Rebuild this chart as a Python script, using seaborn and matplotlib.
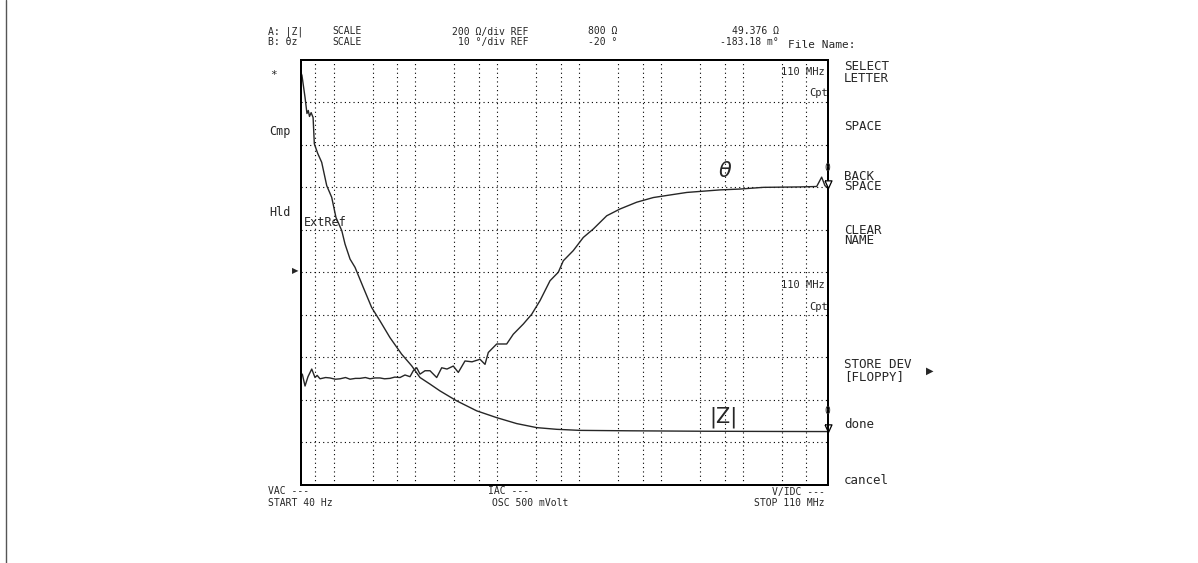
import numpy as np
import pandas as pd
import matplotlib
matplotlib.use("Agg")
import matplotlib.pyplot as plt
from matplotlib.lines import Line2D
import seaborn as sns

z_freq = [40, 41.1, 44.8, 47.3, 49.1, 50.8, 53.2, 56.2, 58.2, 64, 71.6, 82.5, 94.9,
          107, 126, 138, 159, 183, 231, 292, 369, 489, 679, 901, 1138, 1508,
          1996, 3197, 5613, 9846, 17280, 30340, 53210, 102500, 418800,
          3.0e6, 2.0e7, 110e6]
z_ohm = [1740, 1727, 1624, 1548, 1562, 1534, 1552, 1529, 1405, 1360, 1318, 1208, 1153,
         1058, 996, 933, 862, 823, 728, 634, 571, 492, 414, 359, 304, 273,
         241, 194, 147, 115, 87, 68, 60, 55, 53,
         51, 50, 49.4]

th_freq = [40, 41.5, 44.8, 48.7, 54.1, 59.3, 63, 68.3, 80, 90.4, 105, 120, 140, 159,
           185, 210, 245, 279, 320, 369, 420, 489, 560, 648, 746, 859, 942, 1037,
           1138, 1310, 1508, 1820, 2095, 2432, 2904, 3343, 4036, 4916, 6156,
           7087, 7776, 9846, 13040, 15700, 20810, 26350, 33270, 44140, 55720,
           64130, 84920, 112600, 149300, 217500, 316000, 505800, 807200,
           1.29e6, 2.07e6, 5.27e6, 9.25e6, 1.78e7, 5.01e7, 8.0e7, 9.2e7,
           1.01e8, 110e6]
th_deg = [-44.5, -44.0, -46.8, -44.6, -42.8, -44.8, -44.3, -45.1, -44.8, -44.9, -45.2,
          -45.1, -44.8, -45.2, -45.0, -45.0, -44.8, -45.1, -44.9, -44.9, -45.1, -45.0,
          -44.7, -44.8, -44.2, -44.6, -43.2, -42.5,
          -44.0, -43.2, -43.2, -44.8, -42.5, -42.8, -42.1, -43.6, -40.9, -41.1, -40.5,
          -41.7, -38.9, -36.9, -36.9, -34.6, -32.2, -29.9, -26.7, -22.0, -20.0,
          -17.3, -14.9, -11.8, -9.8, -6.7, -5.1, -3.5, -2.4,
          -1.8, -1.2, -0.6, -0.4, 0.0, 0.1, 0.2, 2.4,
          0.4, -0.18]

grid_freqs = [60, 100, 300, 600, 1e3, 3e3, 6e3, 1e4, 3e4, 6e4, 1e5, 3e5, 6e5,
              1e6, 3e6, 6e6, 1e7, 3e7, 6e7]

# ---------------- figure ----------------
sns.set_style("white")
plt.rcParams['font.family'] = ['DejaVu Sans Mono', 'DejaVu Sans']

W, H = 1198, 563
fig = plt.figure(figsize=(W / 100, H / 100), dpi=100)
L, R, T, B = 301, 828, 60, 484.5
ax = fig.add_axes([L / W, 1 - B / H, (R - L) / W, (B - T) / H])
ax2 = ax.twinx()

trace_col = "#262626"
dfz = pd.DataFrame({"freq": z_freq, "Z": z_ohm})
dft = pd.DataFrame({"freq": th_freq, "theta": th_deg})

for a in (ax, ax2):
    a.set_xscale("log")
    a.set_xlim(40, 110e6)

ax.set_ylim(-200, 1800)     # 200 ohm/div, REF 800 ohm at centre
ax2.set_ylim(-70, 30)       # 10 deg/div, REF -20 deg at centre

# dotted graticule
dot = dict(color="black", lw=0.8, linestyle=(0, (1, 2.9)), zorder=0)
for f in grid_freqs:
    ax.axvline(f, **dot)
for zval in range(0, 1800, 200):
    ax.axhline(zval, **dot)

sns.lineplot(data=dfz, x="freq", y="Z", ax=ax, color=trace_col, lw=1.0,
             estimator=None, sort=False)
sns.lineplot(data=dft, x="freq", y="theta", ax=ax2, color=trace_col, lw=1.0,
             estimator=None, sort=False)

# marker triangles at the stop frequency
tri = [(-1, 2.2), (1, 2.2), (0, 0), (-1, 2.2)]
ax.plot([z_freq[-1]], [z_ohm[-1]], marker=tri, ms=11, mfc="white", mec="black",
        mew=0.9, clip_on=False, zorder=5)
ax2.plot([th_freq[-1]], [th_deg[-1]], marker=tri, ms=11, mfc="white", mec="black",
         mew=0.9, clip_on=False, zorder=5)

for a in (ax, ax2):
    a.set_xticks([])
    a.set_yticks([])
    a.minorticks_off()
    a.set_xlabel("")
    a.set_ylabel("")
    for s in a.spines.values():
        s.set_color("black")
        s.set_linewidth(1.4)
ax.tick_params(which="both", length=0)
ax2.tick_params(which="both", length=0)
ax.set_xticks([], minor=True)
ax2.set_xticks([], minor=True)


def t(x, y, s, size=7, ha="left", **kw):
    fig.text(x / W, 1 - y / H, s, fontsize=size, ha=ha, va="center", **kw)


# header
r1, r2 = 31.5, 42
t(268, r1, "A: |Z|")
t(332, r1, "SCALE")
t(528, r1, "200 Ω/div REF", ha="right")
t(588, r1, "800 Ω")
t(779, r1, "49.376 Ω", ha="right")
t(268, r2, "B: θz")
t(332, r2, "SCALE")
t(528, r2, "10 °/div REF", ha="right")
t(588, r2, "-20 °")
t(779, r2, "-183.18 m°", ha="right")
t(788, 45, "File Name:", size=8)

# footer
f1, f2 = 491.5, 502.5
t(268, f1, "VAC ---")
t(268, f2, "START 40 Hz")
t(488, f1, "IAC ---")
t(492, f2, "OSC 500 mVolt")
t(825, f1, "V/IDC ---", ha="right")
t(825, f2, "STOP 110 MHz", ha="right")

# left annunciators
t(270, 75, "*", size=8)
t(269, 131, "Cmp", size=8.5)
t(269, 213, "Hld", size=8.5)
t(304, 222, "ExtRef", size=8.5)
t(292, 271, "▶", size=6, family=["DejaVu Sans"])

# in-graph labels
t(825, 72, "110 MHz", size=7.5, ha="right")
t(828, 93.5, "Cpt", size=7.5, ha="right")
t(825, 285, "110 MHz", size=7.5, ha="right")
t(828, 306.5, "Cpt", size=7.5, ha="right")
t(827, 168, "0", size=7, ha="center")
t(827, 411, "0", size=7, ha="center")
t(725, 171, "θ", size=15, ha="center", family=["DejaVu Sans"], style="italic")
t(723, 417, "|Z|", size=15, ha="center", family=["DejaVu Sans"])

# soft keys
sk = 9
t(844, 67, "SELECT", size=sk)
t(844, 78, "LETTER", size=sk)
t(844, 127, "SPACE", size=sk)
t(844, 176, "BACK", size=sk)
t(844, 187, "SPACE", size=sk)
t(844, 230, "CLEAR", size=sk)
t(844, 241, "NAME", size=sk)
t(844, 365, "STORE DEV", size=sk)
t(844, 377, "[FLOPPY]", size=sk)
t(926, 371, "▶", size=7, family=["DejaVu Sans"])
t(844, 425, "done", size=sk)
t(844, 480, "cancel", size=sk)

# outer frame edge at left
fig.add_artist(Line2D([5.5 / W, 5.5 / W], [0, 1], transform=fig.transFigure,
                      color="#555555", lw=1.0))

fig.savefig("out.png", dpi=100)
